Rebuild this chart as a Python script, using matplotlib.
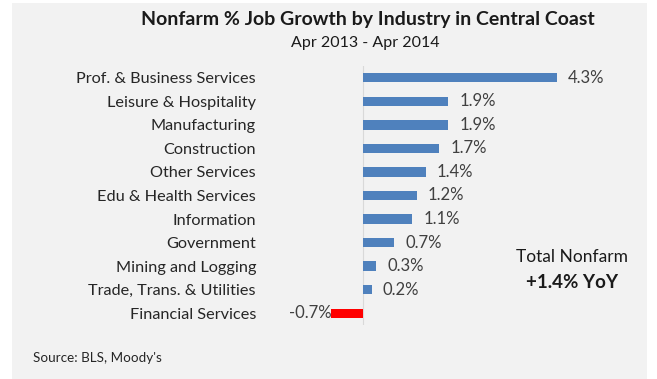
import matplotlib
matplotlib.use("Agg")
import matplotlib.pyplot as plt
from matplotlib.patches import Rectangle

industries = [
    "Prof. & Business Services",
    "Leisure & Hospitality",
    "Manufacturing",
    "Construction",
    "Other Services",
    "Edu & Health Services",
    "Information",
    "Government",
    "Mining and Logging",
    "Trade, Trans. & Utilities",
    "Financial Services",
]
growth = [4.3, 1.9, 1.9, 1.7, 1.4, 1.2, 1.1, 0.7, 0.3, 0.2, -0.7]
value_labels = ["4.3%", "1.9%", "1.9%", "1.7%", "1.4%", "1.2%", "1.1%", "0.7%", "0.3%", "0.2%", "-0.7%"]

FONT = "Lato"
W, H = 657, 379
BG = "#f2f2f2"
BLUE = "#4f81bd"
RED = "#ff0000"
TXT = "#404040"

fig = plt.figure(figsize=(W / 100, H / 100), dpi=100, facecolor="white")
fig.patches.append(Rectangle((12 / W, 0), 635 / W, 376 / H, transform=fig.transFigure,
                             facecolor=BG, edgecolor="none", zorder=-10))

# plot area in pixels
left_px, right_px = 300, 640
top_px, bot_px = 66, 325
zero_px = 362.7
px_per_unit = 45.1
ax = fig.add_axes([left_px / W, 1 - bot_px / H, (right_px - left_px) / W, (bot_px - top_px) / H])
ax.set_zorder(5)
ax.set_facecolor("none")
ax.set_xlim((left_px - zero_px) / px_per_unit, (right_px - zero_px) / px_per_unit)
ax.set_ylim(len(industries) - 0.5, -0.5)

ypos = list(range(len(industries)))
colors = [RED if v < 0 else BLUE for v in growth]
ax.barh(ypos, growth, height=0.4, color=colors, zorder=2)

for y, v, lab in zip(ypos, growth, value_labels):
    if v >= 0:
        ax.annotate(lab, (v, y), xytext=(8, 0), textcoords="offset points",
                    ha="left", va="center", fontsize=12, color=TXT, family=FONT)
    else:
        ax.annotate(lab, (v, y), xytext=(0, 0), textcoords="offset points",
                    ha="right", va="center", fontsize=12, color=TXT, family=FONT)

for s in ["top", "right", "bottom", "left"]:
    ax.spines[s].set_visible(False)
ax.axvline(0, color="#d9d9d9", lw=0.8, zorder=1)
ax.set_xticks([])
ax.set_yticks(ypos)
ax.set_yticklabels(industries, fontsize=11.7, color="#262626", family=FONT)
ax.tick_params(axis="y", length=0, pad=(left_px - 256) * 0.72)
for t in ax.get_yticklabels():
    t.set_ha("right")

fig.text(368 / W, 1 - 19 / H, "Nonfarm % Job Growth by Industry in Central Coast",
         ha="center", va="center", fontsize=14, fontweight="bold", color="#1a1a1a", family=FONT)
fig.text(365 / W, 1 - 43 / H, "Apr 2013 - Apr 2014", ha="center", va="center",
         fontsize=11.5, color="#1a1a1a", family=FONT)
fig.text(572 / W, 1 - 257 / H, "Total Nonfarm", ha="center", va="center",
         fontsize=12.5, color="#1a1a1a", family=FONT)
fig.text(572 / W, 1 - 282 / H, "+1.4% YoY", ha="center", va="center",
         fontsize=13.5, fontweight="bold", color="#1a1a1a", family=FONT)
fig.text(33 / W, 1 - 358 / H, "Source: BLS, Moody's", ha="left", va="center",
         fontsize=9.7, color="#262626", family=FONT)

fig.savefig("out.png", dpi=100, facecolor="white")
